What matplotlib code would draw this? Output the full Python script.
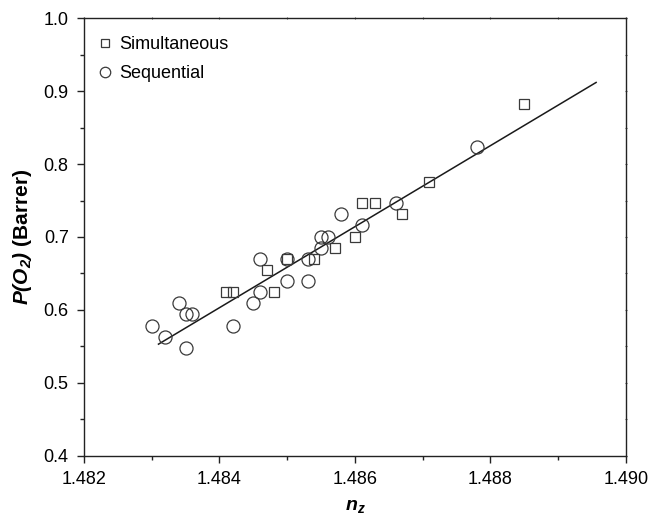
import numpy as np
import matplotlib
matplotlib.use("Agg")
import matplotlib.pyplot as plt
from matplotlib.ticker import MultipleLocator, FormatStrFormatter

plt.rcParams['font.family'] = ['Liberation Sans', 'DejaVu Sans']
plt.rcParams['mathtext.fontset'] = 'custom'
plt.rcParams['mathtext.bf'] = 'Liberation Sans:bold:italic'
plt.rcParams['mathtext.it'] = 'Liberation Sans:italic'
plt.rcParams['mathtext.rm'] = 'Liberation Sans'

# Refractive index n_z vs O2 permeability
sim_nz = [1.4841, 1.4842, 1.4847, 1.4848, 1.4850, 1.4854, 1.4857,
          1.4860, 1.4861, 1.4863, 1.4867, 1.4871, 1.4885]
sim_p = [0.625, 0.625, 0.655, 0.625, 0.670, 0.670, 0.685,
         0.700, 0.746, 0.746, 0.731, 0.776, 0.883]

seq_nz = [1.4830, 1.4832, 1.4834, 1.4835, 1.4836, 1.4835, 1.4842,
          1.4845, 1.4846, 1.4846, 1.4850, 1.4850, 1.4853, 1.4853,
          1.4855, 1.4855, 1.4856, 1.4858, 1.4861, 1.4866, 1.4878]
seq_p = [0.578, 0.563, 0.609, 0.594, 0.594, 0.548, 0.578,
         0.609, 0.670, 0.625, 0.670, 0.640, 0.670, 0.640,
         0.685, 0.700, 0.700, 0.731, 0.716, 0.746, 0.823]

# Linear fit line endpoints
fit_nz = [1.4831, 1.48956]
fit_p = [0.553, 0.912]

fig = plt.figure(figsize=(6.52, 5.17), dpi=100)
ax = fig.add_axes([0.1288, 0.1186, 0.8312, 0.846])

edge = '#3a3a3a'
ax.plot(fit_nz, fit_p, color='#1a1a1a', lw=1.1, zorder=2)
ax.plot(sim_nz, sim_p, ls='none', marker='s', ms=7.6, mfc='none',
        mec=edge, mew=0.9, label='Simultaneous', zorder=3)
ax.plot(seq_nz, seq_p, ls='none', marker='o', ms=9.4, mfc='none',
        mec=edge, mew=0.9, label='Sequential', zorder=3)

ax.set_xlim(1.482, 1.490)
ax.set_ylim(0.4, 1.0)
ax.xaxis.set_major_locator(MultipleLocator(0.002))
ax.xaxis.set_minor_locator(MultipleLocator(0.001))
ax.yaxis.set_major_locator(MultipleLocator(0.1))
ax.yaxis.set_minor_locator(MultipleLocator(0.05))
ax.xaxis.set_major_formatter(FormatStrFormatter('%.3f'))
ax.yaxis.set_major_formatter(FormatStrFormatter('%.1f'))

for s in ax.spines.values():
    s.set_linewidth(1.0)
    s.set_color('#222222')

ax.tick_params(which='both', direction='out', color='#222222', width=1.0,
               labelsize=13)
ax.tick_params(which='major', length=5, pad=6)
ax.tick_params(which='minor', length=3)

# faint ticks on the top and right frame
top = ax.secondary_xaxis('top')
top.xaxis.set_major_locator(MultipleLocator(0.001))
top.tick_params(direction='inout', length=1.5, width=0.8, color='#555555',
                labeltop=False)
right = ax.secondary_yaxis('right')
right.yaxis.set_major_locator(MultipleLocator(0.05))
right.tick_params(direction='inout', length=1.5, width=0.8, color='#555555',
                  labelright=False)
top.spines['top'].set_visible(False)
right.spines['right'].set_visible(False)

ax.set_xlabel(r'$\mathbf{n_z}$', fontsize=14, labelpad=7)
ax.set_ylabel(r'$\mathbf{P(O_2)}$ (Barrer)', fontsize=15, fontweight='bold',
              labelpad=7)

leg = ax.legend(loc='upper left', bbox_to_anchor=(0.011, 0.975), frameon=False,
                fontsize=13, handlelength=0.9, handletextpad=0.3,
                labelspacing=0.63, markerscale=0.8, borderaxespad=0)

fig.savefig('out.png', dpi=100)
